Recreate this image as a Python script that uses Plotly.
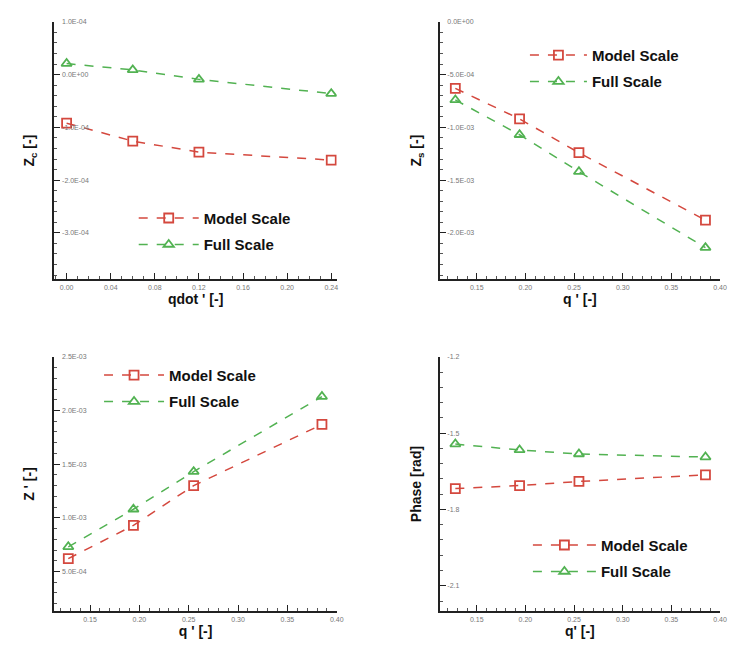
import plotly.graph_objects as go

# ---------------- data ----------------
qdot = [0.00, 0.06, 0.12, 0.24]
zc_model = [-0.92e-4, -1.26e-4, -1.47e-4, -1.62e-4]
zc_full = [2.1e-5, 0.9e-5, -0.9e-5, -3.6e-5]

q = [0.128, 0.194, 0.255, 0.385]
zs_model = [-6.3e-4, -9.2e-4, -1.24e-3, -1.88e-3]
zs_full = [-7.4e-4, -1.07e-3, -1.42e-3, -2.14e-3]

zp_model = [6.2e-4, 9.3e-4, 1.30e-3, 1.87e-3]
zp_full = [7.3e-4, 1.08e-3, 1.43e-3, 2.13e-3]

ph_model = [-1.718, -1.706, -1.690, -1.664]
ph_full = [-1.543, -1.566, -1.582, -1.594]

x1_vals = [0.00, 0.04, 0.08, 0.12, 0.16, 0.20, 0.24]
x1_text = ["0.00", "0.04", "0.08", "0.12", "0.16", "0.20", "0.24"]
xq_vals = [0.15, 0.20, 0.25, 0.30, 0.35, 0.40]
xq_text = ["0.15", "0.20", "0.25", "0.30", "0.35", "0.40"]

y1_vals = [1e-4, 0, -1e-4, -2e-4, -3e-4]
y1_text = ["1.0E-04", "0.0E+00", "-1.0E-04", "-2.0E-04", "-3.0E-04"]
y2_vals = [0, -5e-4, -1e-3, -1.5e-3, -2e-3]
y2_text = ["0.0E+00", "-5.0E-04", "-1.0E-03", "-1.5E-03", "-2.0E-03"]
y3_vals = [2.5e-3, 2e-3, 1.5e-3, 1e-3, 5e-4]
y3_text = ["2.5E-03", "2.0E-03", "1.5E-03", "1.0E-03", "5.0E-04"]
y4_vals = [-1.2, -1.5, -1.8, -2.1]
y4_text = ["-1.2", "-1.5", "-1.8", "-2.1"]

RED = "#d4483e"
GREEN = "#52b252"

fig = go.Figure()

panels = [
    (qdot, zc_model, zc_full, "x", "y", "legend"),
    (q, zs_model, zs_full, "x2", "y2", "legend2"),
    (q, zp_model, zp_full, "x3", "y3", "legend3"),
    (q, ph_model, ph_full, "x4", "y4", "legend4"),
]
for xs, m, f, xa, ya, lg in panels:
    fig.add_trace(go.Scatter(x=xs, y=m, mode="lines+markers", name="Model Scale",
                             xaxis=xa, yaxis=ya, legend=lg, legendgroup=lg + "m",
                             line=dict(color=RED, width=1.5, dash="dash"),
                             marker=dict(symbol="square-open", size=9, color=RED,
                                         line=dict(width=1.8, color=RED))))
    fig.add_trace(go.Scatter(x=xs, y=f, mode="lines+markers", name="Full Scale",
                             xaxis=xa, yaxis=ya, legend=lg, legendgroup=lg + "f",
                             line=dict(color=GREEN, width=1.5, dash="dash"),
                             marker=dict(symbol="triangle-up-open", size=9, color=GREEN,
                                         line=dict(width=1.8, color=GREEN))))

W, H = 733, 647
tickfont = dict(family="Liberation Sans", size=7, color="#777777")
titlefont = dict(family="Liberation Sans", size=14, color="#111111")

def xax(dom, rng, vals, text, minor, title, anchor):
    return dict(domain=dom, range=rng, tickvals=vals, ticktext=text,
                showline=True, linecolor="#222", linewidth=2, mirror=False,
                ticks="inside", ticklen=6, tickwidth=1.2, tickcolor="#222",
                ticklabeloverflow="allow",
                minor=dict(ticks="inside", ticklen=3, dtick=minor, tickcolor="#555"),
                showgrid=False, zeroline=False, tickfont=tickfont, anchor=anchor,
                title=dict(text="<b>" + title + "</b>", font=titlefont, standoff=4))

def yax(dom, rng, vals, text, title, anchor, minor, standoff):
    return dict(domain=dom, range=rng, tickvals=vals, ticktext=text,
                showline=True, linecolor="#222", linewidth=2, mirror=False,
                ticks="inside", ticklen=6, tickwidth=1.2, tickcolor="#222",
                ticklabelposition="inside", ticklabeloverflow="allow",
                minor=dict(ticks="inside", ticklen=3, dtick=minor, tickcolor="#555"),
                showgrid=False, zeroline=False, tickfont=tickfont, anchor=anchor,
                title=dict(text="<b>" + title + "</b>", font=titlefont, standoff=standoff))

xl = [55 / W, 340 / W]
xr = [444 / W, 727 / W]
yt = [(H - 277) / H, (H - 18) / H]
yb = [(H - 611) / H, (H - 355) / H]

legfont = dict(family="Liberation Sans", size=15, color="#111111", weight="bold")
def leg(x, y, iw):
    return dict(x=x, y=y, xanchor="left", yanchor="top", bgcolor="rgba(0,0,0,0)",
                font=legfont, itemwidth=iw, tracegroupgap=4)

fig.update_layout(
    width=W, height=H, margin=dict(l=0, r=0, t=0, b=0),
    paper_bgcolor="white", plot_bgcolor="white",
    xaxis=xax(xl, [-0.011, 0.245], x1_vals, x1_text, 0.01, "qdot ' [-]", "y"),
    yaxis=yax(yt, [-3.88e-4, 1.0e-4], y1_vals, y1_text, "Z<sub>c</sub> [-]", "x", 2e-5, 24),
    xaxis2=xax(xr, [0.112, 0.40], xq_vals, xq_text, 0.01, "q ' [-]", "y2"),
    yaxis2=yax(yt, [-2.44e-3, 0.0], y2_vals, y2_text, "Z<sub>s</sub> [-]", "x2", 1e-4, 22),
    xaxis3=xax(xl, [0.114, 0.40], xq_vals, xq_text, 0.01, "q ' [-]", "y3"),
    yaxis3=yax(yb, [1.3e-4, 2.5e-3], y3_vals, y3_text, "Z ' [-]", "x3", 1e-4, 24),
    xaxis4=xax(xr, [0.112, 0.40], xq_vals, xq_text, 0.01, "q' [-]", "y4"),
    yaxis4=yax(yb, [-2.2, -1.2], y4_vals, y4_text, "Phase [rad]", "x4", 0.06, 22),
    legend=leg(135 / W, (H - 199) / H, 60),
    legend2=leg(530 / W, (H - 35) / H, 57),
    legend3=leg(100 / W, (H - 357) / H, 60),
    legend4=leg(533 / W, (H - 528) / H, 63),
    showlegend=True,
)

fig.write_html("out.html")
